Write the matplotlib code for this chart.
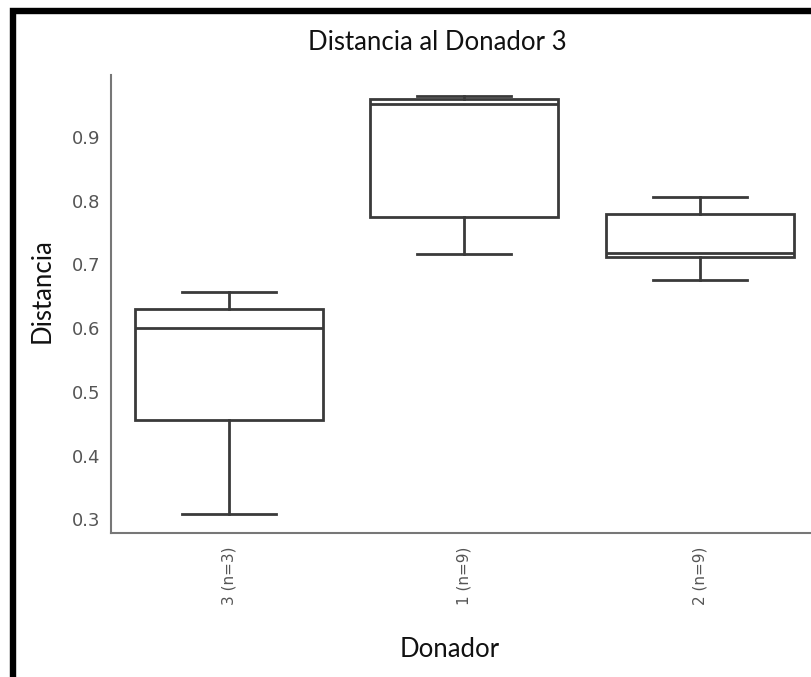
import matplotlib
matplotlib.use("Agg")
import matplotlib.pyplot as plt
from matplotlib.lines import Line2D

categories = ["3 (n=3)", "1 (n=9)", "2 (n=9)"]
whislo = [0.309, 0.716, 0.676]
q1 = [0.455, 0.774, 0.711]
med = [0.600, 0.951, 0.718]
q3 = [0.630, 0.960, 0.779]
whishi = [0.657, 0.964, 0.805]
yticks = [0.3, 0.4, 0.5, 0.6, 0.7, 0.8, 0.9]

W, H = 811, 677
fig = plt.figure(figsize=(W / 100, H / 100), dpi=100)
fig.patch.set_facecolor("white")

def fx(px):
    return px / W

def fy(py):
    return (H - py) / H

ax = fig.add_axes([fx(111), fy(533), 3 * 235.5 / W, (533 - 75) / H])
stats = [dict(label=c, whislo=a, q1=b, med=m, q3=d, whishi=e, fliers=[])
         for c, a, b, m, d, e in zip(categories, whislo, q1, med, q3, whishi)]
lc = "#3a3a3a"
lw = 2.0
ax.bxp(stats, positions=range(len(categories)), widths=0.8, capwidths=0.4,
       patch_artist=True, showfliers=False,
       boxprops=dict(facecolor="white", edgecolor=lc, linewidth=lw),
       medianprops=dict(color=lc, linewidth=lw),
       whiskerprops=dict(color=lc, linewidth=lw),
       capprops=dict(color=lc, linewidth=lw))
ax.set_xlim(-0.5, 2.5)
ax.set_ylim(0.2785, 0.997)
ax.set_yticks(yticks)
ax.set_yticklabels([f"{v:.1f}" for v in yticks])
ax.set_xticks(range(len(categories)))
ax.set_xticklabels(categories, rotation=90)
ax.tick_params(axis="y", length=0, pad=8.0, labelsize=13, labelcolor="#555555")
ax.tick_params(axis="x", length=0, pad=10.0, labelsize=11, labelcolor="#555555")
for s in ["top", "right"]:
    ax.spines[s].set_visible(False)
for s in ["left", "bottom"]:
    ax.spines[s].set_color("#777777")
    ax.spines[s].set_linewidth(1.5)
ax.set_facecolor("white")

font = "Lato"
fig.text(fx(437.5), fy(50), "Distancia al Donador 3", ha="center", va="baseline",
         fontsize=18.5, family=font, color="#111111")
fig.text(fx(42.5), fy(291), "Distancia", ha="center", va="center", rotation=90,
         fontsize=18.5, family=font, color="#111111")
fig.text(fx(450), fy(656.7), "Donador", ha="center", va="baseline",
         fontsize=18.5, family=font, color="#111111")

frame = Line2D([fx(13), fx(13), fx(W + 10)], [fy(H + 10), fy(11), fy(11)],
               transform=fig.transFigure, color="black", linewidth=4.6,
               solid_joinstyle="miter")
fig.add_artist(frame)

fig.savefig("out.png", dpi=100, facecolor="white")
